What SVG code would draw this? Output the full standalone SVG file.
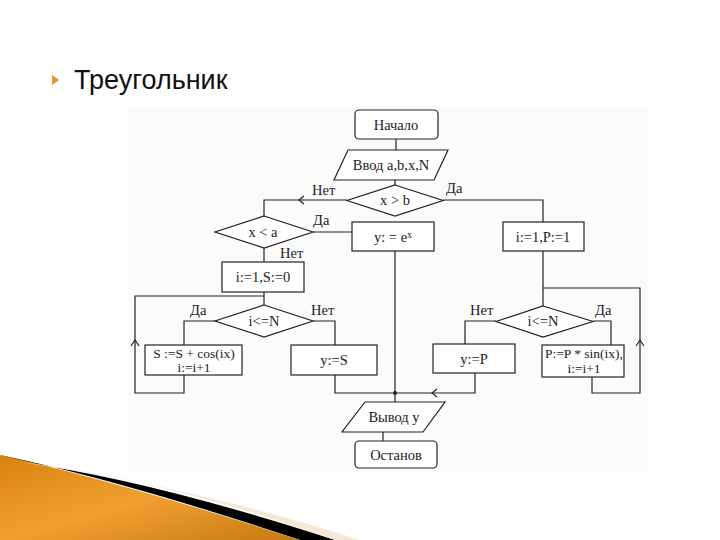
<svg xmlns="http://www.w3.org/2000/svg" width="720" height="540" viewBox="0 0 720 540">
<defs>
<linearGradient id="og" x1="0" y1="0" x2="1" y2="1"><stop offset="0" stop-color="#d9820f"/><stop offset="0.5" stop-color="#f0a030"/><stop offset="1" stop-color="#c87a10"/></linearGradient>
<style>
.s{fill:#fff;stroke:#222;stroke-width:1.2}
.l{fill:none;stroke:#222;stroke-width:1.2}
.t{font-family:"Liberation Serif",serif;font-size:14.5px;fill:#222;text-anchor:middle}
.t2{font-family:"Liberation Serif",serif;font-size:13.5px;fill:#222;text-anchor:middle}
.lb{font-family:"Liberation Serif",serif;font-size:14.5px;fill:#222}
</style>
</defs>
<rect width="720" height="540" fill="#fff"/>
<rect x="128" y="106" width="520" height="366" fill="#fbfbfb"/>
<path d="M0,455 Q120,480 300,540 L335,540 Q150,480 20,462 Z" fill="#000"/>
<path d="M0,455 Q120,482 300,540 L0,540 Z" fill="url(#og)"/>
<path d="M20,462 Q160,478 335,540 L360,540 Q200,488 20,462 Z" fill="#f6e8d6"/>
<polygon points="52,75 59,80 52,85" fill="#e8902a"/>
<text x="74" y="89" style="font-family:'Liberation Sans',sans-serif;font-size:27px;fill:#111">Треугольник</text>

<g id="connectors">
<polyline class="l" points="396,139 396,150"/>
<polyline class="l" points="395,180 395,185"/>
<polyline class="l" points="347,200 264,200 264,216"/>
<polyline class="l" points="304,196 299,200 304,204"/>
<polyline class="l" points="443,200 543,200 543,222"/>
<polyline class="l" points="313,232 352,232"/>
<polyline class="l" points="264,248 264,262"/>
<polyline class="l" points="264,292 264,305"/>
<polyline class="l" points="215,321 184,321 184,345"/>
<polyline class="l" points="184,375 184,393 135,393 135,296 264,296"/>
<polyline class="l" points="131,346 135,340 139,346"/>
<polyline class="l" points="313,321 335,321 335,345"/>
<polyline class="l" points="335,375 335,393 475,393 475,373"/>
<polyline class="l" points="437,389 432,393 437,397"/>
<polyline class="l" points="395,251 395,402"/>
<circle cx="395" cy="393" r="2" fill="#222"/>
<polyline class="l" points="543,251 543,306"/>
<polyline class="l" points="543,288 640,288 640,393 592,393 592,377"/>
<polyline class="l" points="636,346 640,340 644,346"/>
<polyline class="l" points="496,321 465,321 465,344"/>
<polyline class="l" points="593,321 611,321 611,345"/>
<polyline class="l" points="383,432 383,441"/>
</g>

<g id="start"><rect class="s" x="355" y="110" width="83" height="29" rx="4"/><text class="t" x="396" y="130">Начало</text></g>
<g id="input"><polygon class="s" points="348,150 448,150 434,180 334,180"/><text class="t" x="391" y="170">Ввод a,b,x,N</text></g>
<g id="d1"><polygon class="s" points="395,185 443,200.5 395,216 347,200.5"/><text class="t" x="395" y="205">x &gt; b</text></g>
<text class="lb" x="312" y="195">Нет</text>
<text class="lb" x="446" y="193">Да</text>
<g id="d2"><polygon class="s" points="264,216 313,232 264,248 215,232"/><text class="t" x="263" y="237">x &lt; a</text></g>
<text class="lb" x="313" y="225">Да</text>
<text class="lb" x="280" y="258">Нет</text>
<g id="exp"><rect class="s" x="352" y="222" width="82" height="29"/><text class="t" x="393" y="242">y: = e<tspan dy="-4" font-size="10">x</tspan></text></g>
<g id="initP"><rect class="s" x="503" y="222" width="81" height="29"/><text class="t" x="543" y="242">i:=1,P:=1</text></g>
<g id="initS"><rect class="s" x="222" y="262" width="82" height="30"/><text class="t" x="263" y="282">i:=1,S:=0</text></g>
<g id="d3"><polygon class="s" points="264,305 313,321 264,337 215,321"/><text class="t" x="264" y="326">i&lt;=N</text></g>
<text class="lb" x="190" y="315">Да</text>
<text class="lb" x="311" y="315">Нет</text>
<g id="sumS"><rect class="s" x="145" y="345" width="97" height="30"/><text class="t2" x="194" y="358">S :=S + cos(ix)</text><text class="t2" x="194" y="372">i:=i+1</text></g>
<g id="yS"><rect class="s" x="291" y="345" width="86" height="30"/><text class="t" x="334" y="365">y:=S</text></g>
<g id="d4"><polygon class="s" points="543,306 593,321.5 543,337 496,321.5"/><text class="t" x="543" y="326">i&lt;=N</text></g>
<text class="lb" x="470" y="315">Нет</text>
<text class="lb" x="595" y="315">Да</text>
<g id="yP"><rect class="s" x="433" y="344" width="82" height="29"/><text class="t" x="474" y="364">y:=P</text></g>
<g id="prodP"><rect class="s" x="542" y="345" width="82" height="32"/><text class="t2" x="584" y="358">P:=P * sin(ix),</text><text class="t2" x="584" y="373">i:=i+1</text></g>
<g id="output"><polygon class="s" points="365,402 445,402 423,432 342,432"/><text class="t" x="394" y="422">Вывод y</text></g>
<g id="stop"><rect class="s" x="355" y="441" width="82" height="27" rx="4"/><text class="t" x="396" y="460">Останов</text></g>
</svg>
